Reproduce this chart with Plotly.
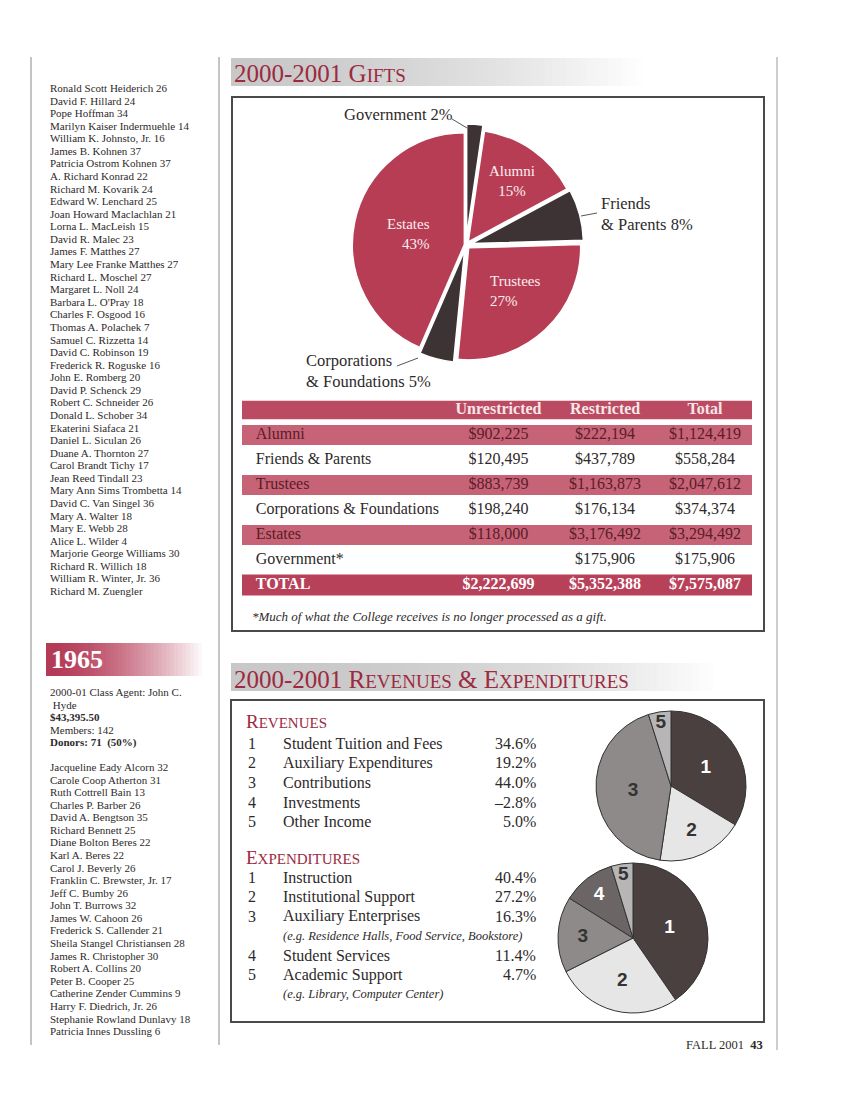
import plotly.graph_objects as go

W, H = 847, 1097
def px(x): return x / W
def py(y): return 1 - y / H

SERIF = "Liberation Serif"
SANS = "Liberation Sans"
INK = "#2e2a2a"
CRIMSON = "#9c2a40"

# ---------------- data ----------------
class_names_a = [
    "Ronald Scott Heiderich 26", "David F. Hillard 24", "Pope Hoffman 34",
    "Marilyn Kaiser Indermuehle 14", "William K. Johnsto, Jr. 16", "James B. Kohnen 37",
    "Patricia Ostrom Kohnen 37", "A. Richard Konrad 22", "Richard M. Kovarik 24",
    "Edward W. Lenchard 25", "Joan Howard Maclachlan 21", "Lorna L. MacLeish 15",
    "David R. Malec 23", "James F. Matthes 27", "Mary Lee Franke Matthes 27",
    "Richard L. Moschel 27", "Margaret L. Noll 24", "Barbara L. O'Pray 18",
    "Charles F. Osgood 16", "Thomas A. Polachek 7", "Samuel C. Rizzetta 14",
    "David C. Robinson 19", "Frederick R. Roguske 16", "John E. Romberg 20",
    "David P. Schenck 29", "Robert C. Schneider 26", "Donald L. Schober 34",
    "Ekaterini Siafaca 21", "Daniel L. Siculan 26", "Duane A. Thornton 27",
    "Carol Brandt Tichy 17", "Jean Reed Tindall 23", "Mary Ann Sims Trombetta 14",
    "David C. Van Singel 36", "Mary A. Walter 18", "Mary E. Webb 28",
    "Alice L. Wilder 4", "Marjorie George Williams 30", "Richard R. Willich 18",
    "William R. Winter, Jr. 36", "Richard M. Zuengler",
]
class_year = "1965"
class_info = ["2000-01 Class Agent: John C.", "&nbsp;Hyde", "<b>$43,395.50</b>",
              "Members: 142", "<b>Donors: 71&nbsp;&nbsp;(50%)</b>"]
class_names_b = [
    "Jacqueline Eady Alcorn 32", "Carole Coop Atherton 31", "Ruth Cottrell Bain 13",
    "Charles P. Barber 26", "David A. Bengtson 35", "Richard Bennett 25",
    "Diane Bolton Beres 22", "Karl A. Beres 22", "Carol J. Beverly 26",
    "Franklin C. Brewster, Jr. 17", "Jeff C. Bumby 26", "John T. Burrows 32",
    "James W. Cahoon 26", "Frederick S. Callender 21", "Sheila Stangel Christiansen 28",
    "James R. Christopher 30", "Robert A. Collins 20", "Peter B. Cooper 25",
    "Catherine Zender Cummins 9", "Harry F. Diedrich, Jr. 26",
    "Stephanie Rowland Dunlavy 18", "Patricia Innes Dussling 6",
]

table_rows = ["Alumni", "Friends & Parents", "Trustees", "Corporations & Foundations",
              "Estates", "Government*", "TOTAL"]
table_cols = ["Unrestricted", "Restricted", "Total"]
unrestricted = [902225, 120495, 883739, 198240, 118000, None, 2222699]
restricted = [222194, 437789, 1163873, 176134, 3176492, 175906, 5352388]
totals = [1124419, 558284, 2047612, 374374, 3294492, 175906, 7575087]

gift_order = ["Government*", "Alumni", "Friends & Parents", "Trustees",
              "Corporations & Foundations", "Estates"]
gift_names = ["Government", "Alumni", "Friends<br>& Parents", "Trustees",
              "Corporations<br>& Foundations", "Estates"]
gift_pct = ["2%", "15%", "8%", "27%", "5%", "43%"]

rev_labels = ["Student Tuition and Fees", "Auxiliary Expenditures", "Contributions",
              "Investments", "Other Income"]
rev_pct = [34.6, 19.2, 44.0, -2.8, 5.0]
exp_labels = ["Instruction", "Institutional Support", "Auxiliary Enterprises",
              "Student Services", "Academic Support"]
exp_pct = [40.4, 27.2, 16.3, 11.4, 4.7]
exp_notes = [None, None, "(e.g. Residence Halls, Food Service, Bookstore)", None,
             "(e.g. Library, Computer Center)"]

footnote = "*Much of what the College receives is no longer processed as a gift."

# ---------------- figure ----------------
fig = go.Figure()
shapes, ann = [], []

def text(x, y, s, size=11, color=INK, xanchor="left", family=SERIF, align="left", yanchor="middle"):
    ann.append(dict(x=px(x), y=py(y), xref="paper", yref="paper", text=s, showarrow=False,
                    xanchor=xanchor, yanchor=yanchor, align=align,
                    font=dict(family=family, size=size, color=color)))

def line(x0, y0, x1, y1, color="#8a8a8a", width=1):
    shapes.append(dict(type="line", xref="paper", yref="paper", x0=px(x0), y0=py(y0),
                       x1=px(x1), y1=py(y1), line=dict(color=color, width=width)))

def rect(x0, y0, x1, y1, fill=None, lc=None, lw=0):
    shapes.append(dict(type="rect", xref="paper", yref="paper", x0=px(x0), y0=py(y0),
                       x1=px(x1), y1=py(y1), fillcolor=fill or "rgba(0,0,0,0)",
                       line=dict(color=lc or "rgba(0,0,0,0)", width=lw), layer="below"))

def gradient(x0, x1, y0, y1, c0, n=50, power=2.0):
    step = (x1 - x0) / n
    for i in range(n):
        t = (i / (n - 1)) ** power
        c = tuple(int(round(a + (255 - a) * t)) for a in c0)
        rect(x0 + i * step, y0, x0 + (i + 1) * step + 0.6, y1, fill="rgb(%d,%d,%d)" % c)

def smallcaps(s, big, small):
    out = []
    for word in s.split(" "):
        if word[0].isalpha() and len(word) > 1:
            out.append(word[0].upper() + "<span style='font-size:%dpx'>%s</span>" % (small, word[1:].upper()))
        else:
            out.append(word)
    return " ".join(out)

# page rules
line(31, 57, 31, 1045)
line(219, 57, 219, 1045)
line(777, 57, 777, 1050, color="#9a9a9a")

# left column lists
PITCH = 12.575
for i, n in enumerate(class_names_a):
    text(48, 88 + i * PITCH, n, size=11)
gradient(46, 206, 643, 676, (180, 58, 86), n=40, power=1.6)
text(49, 659, "<b>%s</b>" % class_year, size=26, color="white")
for i, s in enumerate(class_info):
    text(48, 692 + i * 12.5, s, size=11)
for i, n in enumerate(class_names_b):
    text(48, 767 + i * PITCH, n, size=11)

# section headings
gradient(231, 650, 58, 86, (200, 200, 200), n=60, power=1.6)
text(232, 74, smallcaps("2000-2001 Gifts", 25, 19), size=25, color=CRIMSON)
gradient(231, 720, 663, 691, (200, 200, 200), n=70, power=2.2)
text(232, 679, smallcaps("2000-2001 Revenues & Expenditures", 25, 19), size=25, color=CRIMSON)

# boxes
rect(232, 97, 764, 631, lc="#4a4a4a", lw=2)
rect(231, 700, 764, 1022, lc="#4a4a4a", lw=2)

# ---------------- gifts pie ----------------
lookup = dict(zip(table_rows, totals))
gift_values = [lookup[k] for k in gift_order]
RED, DARK = "#b73d55", "#3d3334"
gift_colors = [DARK, RED, DARK, RED, DARK, RED]
gift_pull = [0.08, 0.035, 0.05, 0.035, 0.05, 0.015]
cx, cy, r = 466, 245, 112
half = r * (1 + max(gift_pull))
fig.add_trace(go.Pie(values=gift_values, labels=gift_order, sort=False, direction="clockwise",
                     rotation=0, pull=gift_pull, textinfo="none", hoverinfo="skip",
                     marker=dict(colors=gift_colors, line=dict(color="white", width=1.5)),
                     domain=dict(x=[px(cx - half), px(cx + half)], y=[py(cy + half), py(cy - half)]),
                     showlegend=False))

# gift labels
text(455, 115, gift_names[0] + " " + gift_pct[0], size=16.5, xanchor="right")
line(452, 119, 467, 128, color="#555")
text(599, 214, gift_names[2] + " " + gift_pct[2], size=16.5)
line(597, 213, 581, 216, color="#555")
text(304, 371, gift_names[4] + " " + gift_pct[4], size=16.5)
line(397, 366, 418, 358, color="#555")
text(512, 181, gift_names[1] + "<br>" + gift_pct[1], size=15, color="#fbeef0", xanchor="center", align="center")
text(408, 234, gift_names[5] + "<br>" + gift_pct[5], size=15, color="#fbeef0", xanchor="center", align="right")
text(488, 291, gift_names[3] + "<br>" + gift_pct[3], size=15, color="#fbeef0", xanchor="left", align="left")

# ---------------- gifts table (on axes) ----------------
nrows = len(table_rows) + 1
band_fill = ["#bb4b62", "#c76377", "rgba(0,0,0,0)", "#c76377", "rgba(0,0,0,0)",
             "#c76377", "rgba(0,0,0,0)", "#b8415a"]
band_w = [0.74, 0.8, 0.8, 0.8, 0.8, 0.8, 0.8, 0.84]
fig.add_trace(go.Bar(orientation="h", y=list(range(nrows)), x=[1] * nrows, base=0,
                     width=band_w, marker=dict(color=band_fill, line=dict(width=0)),
                     hoverinfo="skip", showlegend=False, xaxis="x", yaxis="y"))

row_col = ["#f6e6e9", "#5a1c28", INK, "#5a1c28", INK, "#5a1c28", INK, "white"]
def fmt(v):
    return "" if v is None else "${:,}".format(v)

lab_text = [t if t != "TOTAL" else "<b>TOTAL</b>" for t in table_rows]
fig.add_trace(go.Scatter(x=[0.027] * len(table_rows), y=list(range(1, nrows)), mode="text",
                         text=lab_text, textposition="middle right", hoverinfo="skip",
                         textfont=dict(family=SERIF, size=16, color=row_col[1:]),
                         showlegend=False))
col_x = [0.503, 0.712, 0.908]
for j, (hdr, vals) in enumerate(zip(table_cols, [unrestricted, restricted, totals])):
    txt = ["<b>%s</b>" % hdr] + [fmt(v) for v in vals]
    txt[-1] = "<b>%s</b>" % txt[-1]
    fig.add_trace(go.Scatter(x=[col_x[j]] * nrows, y=list(range(nrows)), mode="text",
                             text=txt, textposition="middle center", hoverinfo="skip",
                             textfont=dict(family=SERIF, size=16, color=row_col),
                             showlegend=False))

text(250, 616, "<i>%s</i>" % footnote, size=13)

# ---------------- revenues & expenditures ----------------
def pct(v):
    return ("%.1f%%" % v).replace("-", "\u2013")

text(244, 721, smallcaps("Revenues", 19, 15), size=19, color=CRIMSON)
for i, (lab, v) in enumerate(zip(rev_labels, rev_pct)):
    y = 743 + i * 19.7
    text(252, y, str(i + 1), size=16, xanchor="center")
    text(281, y, lab, size=16)
    text(538, y, pct(v), size=16, xanchor="right")

text(244, 857, smallcaps("Expenditures", 19, 15), size=19, color=CRIMSON)
k = 0
for i, (lab, v, note) in enumerate(zip(exp_labels, exp_pct, exp_notes)):
    y = 877 + k * 19.5
    text(252, y, str(i + 1), size=16, xanchor="center")
    text(281, y, lab, size=16)
    text(538, y, pct(v), size=16, xanchor="right")
    k += 1
    if note:
        text(281, 877 + k * 19.5, "<i>%s</i>" % note, size=12.5)
        k += 1

rev_keep = [(str(i + 1), v) for i, v in enumerate(rev_pct) if v > 0]
rev_shade = {"1": "#4b4040", "2": "#e6e6e6", "3": "#8e8a8a", "4": "#6b6565", "5": "#b7b5b5"}
num_col = {"1": "white", "2": "#333", "3": "#333", "4": "white", "5": "#333"}

def numpie(labels, values, cx, cy, r):
    return go.Pie(values=values, labels=labels, sort=False, direction="clockwise", rotation=0,
                  textinfo="label", textposition="inside", insidetextorientation="horizontal",
                  textfont=dict(family=SANS, size=19, color=[num_col[l] for l in labels],
                                weight="bold"),
                  marker=dict(colors=[rev_shade[l] for l in labels], line=dict(color="#333", width=1)),
                  hoverinfo="skip", showlegend=False,
                  domain=dict(x=[px(cx - r), px(cx + r)], y=[py(cy + r), py(cy - r)]))

fig.add_trace(numpie([a for a, _ in rev_keep], [b for _, b in rev_keep], 671, 786, 75))
fig.add_trace(numpie([str(i + 1) for i in range(len(exp_pct))], exp_pct, 633, 938, 75))

text(765, 1045, "FALL 2001&nbsp;&nbsp;<b>43</b>", size=12.5, xanchor="right")

fig.update_layout(
    width=W, height=H, margin=dict(l=0, r=0, t=0, b=0),
    paper_bgcolor="white", plot_bgcolor="rgba(0,0,0,0)",
    shapes=shapes, annotations=ann, showlegend=False,
    uniformtext=dict(minsize=19, mode="show"),
    xaxis=dict(domain=[px(242), px(752)], range=[0, 1], visible=False, fixedrange=True),
    yaxis=dict(domain=[py(597.5), py(397.5)], range=[7.5, -0.5], visible=False, fixedrange=True),
)
fig.write_html("out.html", config={"displayModeBar": False},
               post_script="document.body.style.margin='0';")
